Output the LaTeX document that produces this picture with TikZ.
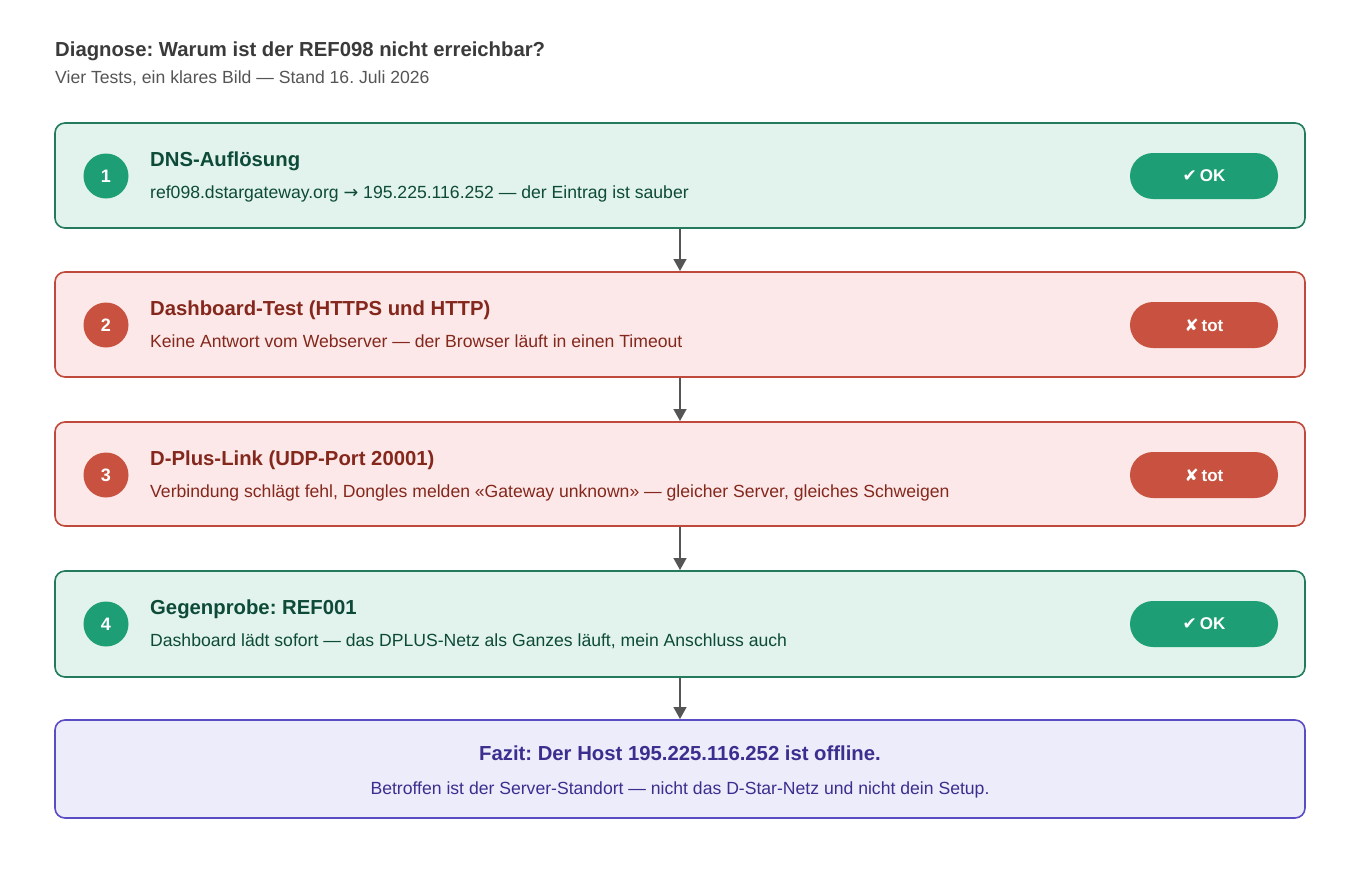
\documentclass[tikz,border=0pt]{standalone}
\usepackage{fontspec}
\setmainfont{Liberation Sans}
\newfontfamily\symfont{DejaVu Sans}
\usetikzlibrary{arrows.meta}
\definecolor{gfill}{HTML}{E1F3EC}
\definecolor{gline}{HTML}{237A5C}
\definecolor{gdot}{HTML}{1E9E74}
\definecolor{gtext}{HTML}{0D4A37}
\definecolor{rfill}{HTML}{FCE8E8}
\definecolor{rline}{HTML}{BF4A3C}
\definecolor{rdot}{HTML}{C8523F}
\definecolor{rtext}{HTML}{84271C}
\definecolor{pfill}{HTML}{EDECFB}
\definecolor{pline}{HTML}{5A4CC2}
\definecolor{ptext}{HTML}{3A2F8E}
\definecolor{htext}{HTML}{3A3A3A}
\definecolor{stext}{HTML}{555555}
\definecolor{arr}{HTML}{555555}
\frenchspacing
\newcommand{\arrsym}{{\symfont →}}
\tikzset{
  card/.style={draw=#1, line width=1.6pt, rounded corners=10pt},
  numdot/.style={circle, fill=#1, minimum size=45pt, inner sep=0pt, text=white, font=\fontsize{18}{20}\selectfont\bfseries},
  pill/.style={rounded corners=23pt, fill=#1, minimum width=148pt, minimum height=46pt, inner sep=0pt, text=white, font=\fontsize{17}{19}\selectfont\bfseries},
  ctitle/.style={anchor=base west, inner sep=0pt, text=#1, font=\fontsize{20.3}{24}\selectfont\bfseries},
  cbody/.style={anchor=base west, inner sep=0pt, text=#1, font=\fontsize{17.6}{21}\selectfont},
  flow/.style={draw=arr, line width=1.5pt, -{Triangle[length=12pt,width=13pt]}}
}
\begin{document}
\begin{tikzpicture}[x=1pt,y=-1pt]
\useasboundingbox (0,0) rectangle (1360,870);
\fill[white] (0,0) rectangle (1360,870);
\node[anchor=base west, inner sep=0pt, text=htext, font=\fontsize{20.3}{24}\selectfont\bfseries] (title) at (55,56) {Diagnose: Warum ist der REF098 nicht erreichbar?};
\node[anchor=base west, inner sep=0pt, text=stext, font=\fontsize{17.6}{21}\selectfont] (sub) at (55,83) {Vier Tests, ein klares Bild — Stand 16. Juli 2026};
% card 1
\draw[card=gline, fill=gfill] (55,123) rectangle (1305,228);
\node[numdot=gdot] (n1) at (106,176) {1};
\node[ctitle=gtext] (t1) at (150,166) {DNS-Auflösung};
\node[cbody=gtext] (b1) at (150,198) {ref098.dstargateway.org \arrsym\ 195.225.116.252 — der Eintrag ist sauber};
\node[pill=gdot] (p1) at (1204,176) {{\symfont ✔}\,OK};
% card 2
\draw[card=rline, fill=rfill] (55,272) rectangle (1305,377);
\node[numdot=rdot] (n2) at (106,325) {2};
\node[ctitle=rtext] (t2) at (150,315) {Dashboard-Test (HTTPS und HTTP)};
\node[cbody=rtext] (b2) at (150,347) {Keine Antwort vom Webserver — der Browser läuft in einen Timeout};
\node[pill=rdot] (p2) at (1204,325) {{\symfont ✘}\,tot};
% card 3
\draw[card=rline, fill=rfill] (55,422) rectangle (1305,526);
\node[numdot=rdot] (n3) at (106,475) {3};
\node[ctitle=rtext] (t3) at (150,465) {D-Plus-Link (UDP-Port 20001)};
\node[cbody=rtext] (b3) at (150,497) {Verbindung schlägt fehl, Dongles melden «Gateway unknown» — gleicher Server, gleiches Schweigen};
\node[pill=rdot] (p3) at (1204,475) {{\symfont ✘}\,tot};
% card 4
\draw[card=gline, fill=gfill] (55,571) rectangle (1305,677);
\node[numdot=gdot] (n4) at (106,624) {4};
\node[ctitle=gtext] (t4) at (150,614) {Gegenprobe: REF001};
\node[cbody=gtext] (b4) at (150,646) {Dashboard lädt sofort — das DPLUS-Netz als Ganzes läuft, mein Anschluss auch};
\node[pill=gdot] (p4) at (1204,624) {{\symfont ✔}\,OK};
% fazit
\draw[card=pline, fill=pfill] (55,720) rectangle (1305,818);
\node[anchor=base, inner sep=0pt, text=ptext, font=\fontsize{20.3}{24}\selectfont\bfseries] (f1) at (680,760) {Fazit: Der Host 195.225.116.252 ist offline.};
\node[anchor=base, inner sep=0pt, text=ptext, font=\fontsize{17.6}{21}\selectfont] (f2) at (680,794) {Betroffen ist der Server-Standort — nicht das D-Star-Netz und nicht dein Setup.};
% connectors
\coordinate (a1) at (680,229); \coordinate (a2) at (680,271);
\coordinate (a3) at (680,378); \coordinate (a4) at (680,421);
\coordinate (a5) at (680,527); \coordinate (a6) at (680,570);
\coordinate (a7) at (680,678); \coordinate (a8) at (680,719);
\draw[flow] (a1) -- (a2);
\draw[flow] (a3) -- (a4);
\draw[flow] (a5) -- (a6);
\draw[flow] (a7) -- (a8);
\end{tikzpicture}
\end{document}
